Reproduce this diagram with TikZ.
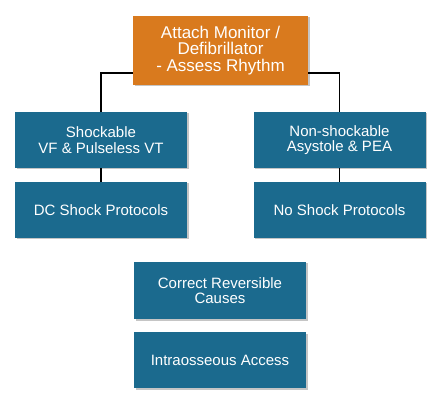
\documentclass[tikz,border=0pt]{standalone}
\usepackage{fontspec}
\setmainfont{Liberation Sans}
\usetikzlibrary{shadows}

\definecolor{rhythmorange}{HTML}{D97A1E}
\definecolor{protoblue}{HTML}{1B6A8E}

\tikzset{
    stepbox/.style={fill=protoblue, text=white, align=center, inner sep=0pt,
        minimum width=172pt, minimum height=56pt,
        font=\fontsize{15}{15.5}\selectfont,
        drop shadow={shadow xshift=1.5pt, shadow yshift=-1.5pt, fill=black!45, opacity=.5}},
    topbox/.style={stepbox, fill=rhythmorange, minimum width=175pt, minimum height=69pt,
        font=\fontsize{17}{16.5}\selectfont}
}

\begin{document}
\begin{tikzpicture}[x=1pt, y=-1pt]

    \useasboundingbox (0,0) rectangle (437,401);

    \node[topbox] (assess) at (220.5,50.5) {Attach Monitor /\\Defibrillator\\- Assess Rhythm};

    \node[stepbox] (shockable) at (101,140) {Shockable\\VF \& Pulseless VT};
    \node[stepbox] (dcshock) at (101,210) {DC Shock Protocols};

    \node[stepbox] (nonshockable) at (339.5,140) {Non-shockable\\Asystole \& PEA};
    \node[stepbox] (noshock) at (339.5,210) {No Shock Protocols};

    \node[stepbox, minimum height=57pt] (causes) at (220,290.5) {Correct Reversible\\Causes};
    \node[stepbox] (intraosseous) at (220,360) {Intraosseous Access};

    \coordinate (barL) at ([yshift=12pt]assess.south west);
    \coordinate (barR) at ([yshift=12pt]assess.south east);

    \begin{scope}[line width=1.6pt]
        \draw (shockable.north) |- (barL);
        \draw (nonshockable.north) |- (barR);
        \draw (shockable.south) -- (dcshock.north);
        \draw (nonshockable.south) -- (noshock.north);
    \end{scope}

\end{tikzpicture}
\end{document}
